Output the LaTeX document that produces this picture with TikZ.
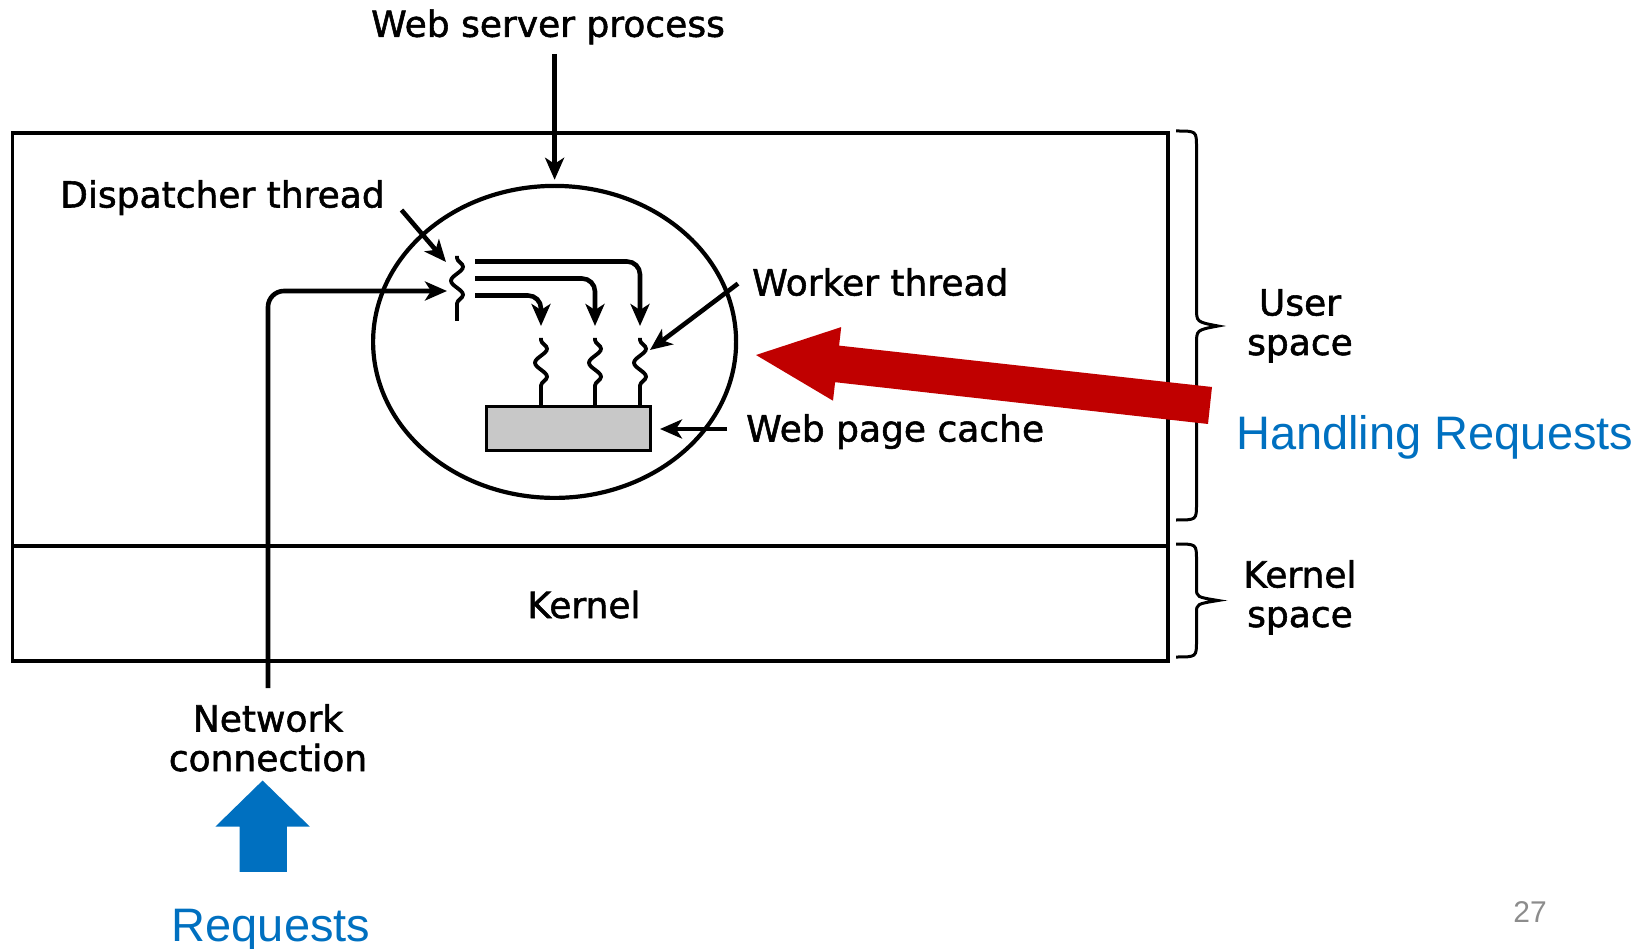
\documentclass[tikz,border=0pt]{standalone}
\usepackage{fontspec}
\setmainfont[FakeBold=1.5]{DejaVu Sans}
\newfontfamily\arialf{Liberation Sans}
\usetikzlibrary{arrows.meta,decorations.pathmorphing,shapes.geometric}
\definecolor{redA}{HTML}{C00000}
\definecolor{blueA}{HTML}{0070C0}
\definecolor{cacheG}{HTML}{C8C8C8}
\definecolor{pgnum}{HTML}{8C8C8C}
\begin{document}
\begin{tikzpicture}[x=1pt,y=-1pt,
  lbl/.style={font=\fontsize{36}{41}\selectfont, inner sep=0pt, anchor=base},
  bluelbl/.style={font=\arialf\fontsize{47}{52}\selectfont, text=blueA, inner sep=0pt, anchor=base},
  arr/.style={line width=4.6pt, -{Stealth[length=22pt,width=19pt,inset=6pt]}},
  thr/.style={line width=3.8pt, decorate, decoration={snake, segment length=28pt, amplitude=6pt, post length=8pt, pre length=2pt}},
  bracestyle/.style={line width=3pt},
  frame/.style={draw, line width=3.6pt, inner sep=0pt},
]
\useasboundingbox (0,0) rectangle (1647,949);

% outer frames
\node[frame, minimum width=1155.5pt, minimum height=413pt, anchor=north west] (userbox) at (10.5,131) {};
\node[frame, minimum width=1155.5pt, minimum height=115pt, anchor=north west] (kernbox) at (10.5,544) {};

% process ellipse
\node[draw, ellipse, line width=4.2pt, minimum width=363pt, minimum height=312pt, inner sep=0pt] (proc) at (554.6,341.9) {};

% cache
\node[draw, fill=cacheG, line width=3.8pt, minimum width=164pt, minimum height=44pt, inner sep=0pt] (cache) at (568.5,428.5) {};

% labels
\node[lbl, anchor=base] (wsp) at (548,36.8) {Web server process};
\node[lbl, anchor=base west] (disp) at (60,207.5) {Dispatcher thread};
\node[lbl, anchor=base west] (work) at (752,295.5) {Worker thread};
\node[lbl, anchor=base west] (wpc) at (746,441.5) {Web page cache};
\node[lbl] (kern) at (584,618) {Kernel};
\node[lbl] (us1) at (1300,315.5) {User};
\node[lbl] (us2) at (1300,355) {space};
\node[lbl] (ks1) at (1300,587.5) {Kernel};
\node[lbl] (ks2) at (1300,627) {space};
\node[lbl] (net1) at (268,731.5) {Network};
\node[lbl] (net2) at (268,771) {connection};
\node[bluelbl, anchor=base west] (hreq) at (1236,449.5) {Handling Requests};
\node[bluelbl] (req) at (271,941) {Requests};
\node[font=\arialf\fontsize{30}{34}\selectfont, text=pgnum, inner sep=0pt, anchor=base] (pnum) at (1530,922.7) {27};

% helper coordinates
\coordinate (wspS) at (554.6,54);
\coordinate (dispS) at (401.5,210);
\coordinate (dispT) at (446,262);
\coordinate (netS) at (268,688);
\coordinate (netT) at (447,291);
\coordinate (dth1) at (457,256);
\coordinate (dth2) at (457,321);
\coordinate (o1) at (475,261.5);
\coordinate (o2) at (475,278.5);
\coordinate (o3) at (475,295.5);
\coordinate (w1t) at (541,338);
\coordinate (w2t) at (595,338);
\coordinate (w3t) at (640,338);
\coordinate (w1b) at (541,406);
\coordinate (w2b) at (595,406);
\coordinate (w3b) at (640,406);
\coordinate (workS) at (738,283.6);
\coordinate (workT) at (650,350);
\coordinate (wpcS) at (727,429);
\coordinate (wpcT) at (660,429);

% connectors
\draw[arr, shorten >=4pt] (wspS) -- (proc.north);
\draw[arr] (dispS) -- (dispT);
\draw[arr, rounded corners=16pt] (netS) |- (netT);
\draw[arr, rounded corners=13pt] (o1) -| (w3t |- 0,326);
\draw[arr, rounded corners=13pt] (o2) -| (w2t |- 0,326);
\draw[arr, rounded corners=13pt] (o3) -| (w1t |- 0,326);
\draw[arr] (workS) -- (workT);
\draw[arr] (wpcS) -- (wpcT);

% threads
\draw[thr] (dth1) -- (dth2);
\draw[thr] (w1t) -- (w1b);
\draw[thr] (w2t) -- (w2b);
\draw[thr] (w3t) -- (w3b);

% braces
\draw[bracestyle] (1176,131) .. controls (1196.5,131) .. (1196.5,147) -- (1196.5,308)
  .. controls (1196.5,322) .. (1218,326) .. controls (1196.5,330) .. (1196.5,344)
  -- (1196.5,504) .. controls (1196.5,520) .. (1176,520);
\draw[bracestyle] (1176,544) .. controls (1196.5,544) .. (1196.5,560) -- (1196.5,588)
  .. controls (1196.5,597) .. (1218,600.5) .. controls (1196.5,604) .. (1196.5,613)
  -- (1196.5,641) .. controls (1196.5,657) .. (1176,657);

% red block arrow (Handling Requests -> process)
\fill[redA] (756,355) -- (841.2,327.1) -- (839.1,345.6) -- (1212,387) -- (1208,424)
  -- (835.1,382.2) -- (833,400.7) -- cycle;

% blue block arrow (Requests -> network)
\fill[blueA] (262.6,780.5) -- (309.9,826.7) -- (286.8,826.7) -- (286.8,871.8)
  -- (239.5,871.8) -- (239.5,826.7) -- (215.3,826.7) -- cycle;
\end{tikzpicture}
\end{document}
